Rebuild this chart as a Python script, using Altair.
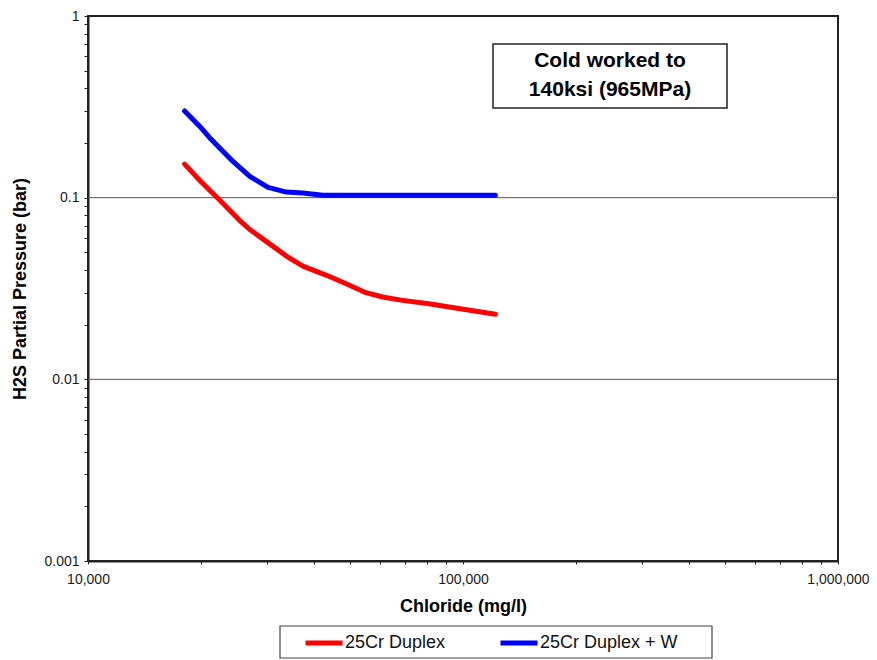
import altair as alt
import pandas as pd

# Data
red_x = [18100, 19900, 22400, 25400, 27000, 31100, 33800, 37400, 43100, 48800, 55100, 61000, 69000, 82900, 91800, 122000]
red_y = [0.153, 0.124, 0.0975, 0.0748, 0.0668, 0.0541, 0.0477, 0.0420, 0.0375, 0.0336, 0.0300, 0.0284, 0.0272, 0.0259, 0.0250, 0.0228]
blue_x = [18100, 19900, 21100, 24100, 27000, 30200, 33800, 37400, 42300, 60000, 80000, 100000, 122000]
blue_y = [0.300, 0.246, 0.214, 0.1616, 0.131, 0.1139, 0.1073, 0.106, 0.103, 0.103, 0.103, 0.103, 0.103]
series = ["25Cr Duplex", "25Cr Duplex + W"]
colors = ["#FF0000", "#0000FF"]
grid_y = [0.1, 0.01]
x_ticks = [m * 10 ** e for e in (4, 5) for m in range(1, 10)] + [1000000]
y_ticks = [m * 10.0 ** e for e in (-3, -2, -1) for m in range(1, 10)] + [1.0]
note_lines = ["Cold worked to", "140ksi (965MPa)"]

df = pd.concat([
    pd.DataFrame({"x": red_x, "y": red_y, "s": series[0], "o": range(len(red_x))}),
    pd.DataFrame({"x": blue_x, "y": blue_y, "s": series[1], "o": range(len(blue_x))}),
])

FONT = "Liberation Sans"
W, H = 750, 545

xscale = alt.Scale(type="log", domain=[10000, 1000000], nice=False)
yscale = alt.Scale(type="log", domain=[0.001, 1], nice=False)

label_expr_x = "abs(log(datum.value)/LN10 - round(log(datum.value)/LN10)) < 1e-6 ? format(datum.value, ',') : ''"
label_expr_y = "abs(log(datum.value)/LN10 - round(log(datum.value)/LN10)) < 1e-6 ? format(datum.value, '~g') : ''"

grid = alt.Chart(pd.DataFrame({"g": grid_y})).mark_rule(color="#555555", strokeWidth=1).encode(
    y=alt.Y("g:Q", scale=yscale)
)

lines = alt.Chart(df).mark_line(strokeWidth=5, strokeCap="round", strokeJoin="round").encode(
    x=alt.X("x:Q", scale=xscale, title="Chloride (mg/l)",
            axis=alt.Axis(values=x_ticks, labelExpr=label_expr_x, grid=False, tickSize=3,
                          labelPadding=8, titlePadding=11, labelFontSize=14, titleFontSize=18,
                          labelFont=FONT, titleFont=FONT, titleFontWeight="bold",
                          domainColor="#222222", domainWidth=2, tickColor="#222222",
                          labelColor="#1a1a1a", titleColor="#000000", labelFlush=False,
                          labelOverlap=False)),
    y=alt.Y("y:Q", scale=yscale, title="H2S Partial Pressure (bar)",
            axis=alt.Axis(values=y_ticks, labelExpr=label_expr_y, grid=False, tickSize=4,
                          labelPadding=5, titlePadding=14, labelFontSize=14, titleFontSize=18,
                          labelFont=FONT, titleFont=FONT, titleFontWeight="bold",
                          domainColor="#222222", domainWidth=2, tickColor="#222222",
                          labelColor="#1a1a1a", titleColor="#000000", labelFlush=False,
                          labelOverlap=False)),
    color=alt.Color("s:N", scale=alt.Scale(domain=series, range=colors),
                    legend=alt.Legend(orient="none", legendX=215, legendY=606, title=None,
                                      direction="horizontal", columns=2, columnPadding=44,
                                      symbolType="stroke", symbolSize=1369, symbolStrokeWidth=5,
                                      labelFontSize=18, labelFont=FONT, labelColor="#111111",
                                      labelOffset=0, padding=0, labelLimit=300)),
    order="o:Q",
)

legend_box = alt.Chart(pd.DataFrame({"a": [0]})).mark_rect(
    fill="white", stroke="#444444", strokeWidth=1.2
).encode(x=alt.value(192), x2=alt.value(624), y=alt.value(610), y2=alt.value(642))

note_box = alt.Chart(pd.DataFrame({"a": [0]})).mark_rect(
    fill="white", stroke="#222222", strokeWidth=1.5
).encode(x=alt.value(405), x2=alt.value(639), y=alt.value(28), y2=alt.value(92))

note1 = alt.Chart(pd.DataFrame({"t": [note_lines[0]]})).mark_text(
    font=FONT, fontSize=21, fontWeight="bold", color="#000000", baseline="middle", align="center"
).encode(text="t:N", x=alt.value(522), y=alt.value(45))

note2 = alt.Chart(pd.DataFrame({"t": [note_lines[1]]})).mark_text(
    font=FONT, fontSize=21, fontWeight="bold", color="#000000", baseline="middle", align="center"
).encode(text="t:N", x=alt.value(522), y=alt.value(74))

chart = alt.layer(grid, legend_box, lines, note_box, note1, note2).properties(
    width=W, height=H,
    autosize=alt.AutoSizeParams(type="none"),
    padding={"left": 80, "top": 8, "right": 31, "bottom": 99},
    background="white",
).configure_view(stroke="#222222", strokeWidth=2)

chart.save("out.html", embed_options={"renderer": "svg", "actions": False})
